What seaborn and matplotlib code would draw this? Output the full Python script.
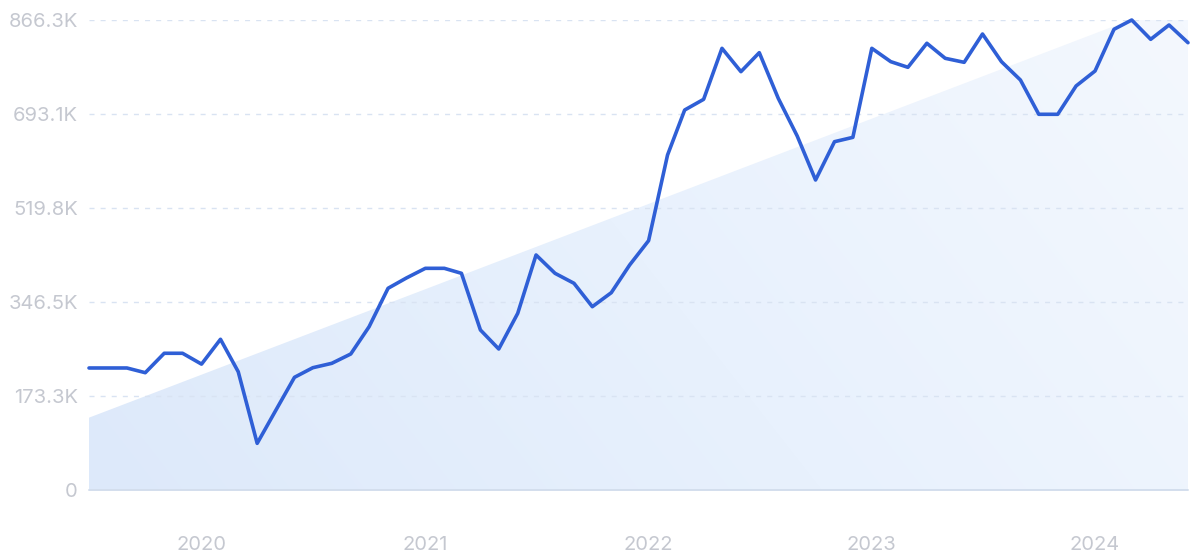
import numpy as np
import pandas as pd
import matplotlib
matplotlib.use("Agg")
import matplotlib.pyplot as plt
import matplotlib.dates as mdates
from matplotlib.colors import LinearSegmentedColormap
import seaborn as sns

# ---- data (values in thousands) ----
start_month = "2019-07-01"
values_k = [224.9, 224.9, 224.9, 216.2, 252.0, 252.0, 232.0, 277.8, 218.0, 86.0,
            146.0, 207.7, 225.4, 233.5, 250.7, 301.0, 371.8, 390.8, 408.6, 408.6,
            399.4, 295.0, 259.9, 325.6, 433.2, 399.4, 381.0, 337.9, 363.7, 414.7,
            459.6, 617.5, 700.4, 720.1, 814.1, 771.1, 806.1, 722.0, 652.5, 571.4,
            642.0, 650.0, 814.1, 789.5, 779.1, 823.4, 795.7, 788.3, 840.5, 789.5,
            755.7, 692.5, 692.5, 744.7, 772.3, 849.2, 866.3, 830.7, 857.1, 824.5]
trend_start_k = 133.3
trend_end_k = 907.0
y_ticks_k = [0, 173.3, 346.5, 519.8, 693.1, 866.3]
y_tick_labels = ["0", "173.3K", "346.5K", "519.8K", "693.1K", "866.3K"]
x_tick_years = ["2020", "2021", "2022", "2023", "2024"]

months = pd.date_range(start_month, periods=len(values_k), freq="MS")
df = pd.DataFrame({"month": months, "value": np.array(values_k) * 1000})

sns.set_theme(style="white")
plt.rcParams["font.family"] = ["Inter", "DejaVu Sans"]

fig = plt.figure(figsize=(12, 5.53), dpi=100)
ax = fig.add_axes([89 / 1200, 1 - 490 / 553, (1188 - 89) / 1200, 470 / 553])

xn = mdates.date2num(months)
x0, x1 = xn[0], xn[-1]
ymax = y_ticks_k[-1] * 1000

# trend area with gradient
trend = np.interp(xn, [x0, x1], [trend_start_k * 1000, trend_end_k * 1000])
poly = ax.fill_between(months, 0, trend, color="none", lw=0, zorder=1)
cmap = LinearSegmentedColormap.from_list("g", ["#dde9fa", "#e8f1fd", "#f4f8fe"])
gx, gy = np.meshgrid(np.linspace(0, 1, 300), np.linspace(0, 1, 150))
grad = 0.75 * gx + 0.25 * gy
im = ax.imshow(grad, cmap=cmap, extent=[x0, x1, 0, ymax], origin="lower",
               aspect="auto", zorder=1, interpolation="bilinear")
im.set_clip_path(poly.get_paths()[0], transform=ax.transData)

# main line
sns.lineplot(data=df, x="month", y="value", ax=ax, color="#2f5fd6",
             linewidth=2.6, zorder=4, clip_on=False)

ax.set_xlim(months[0], months[-1])
ax.set_ylim(0, ymax)
ax.set_xlabel("")
ax.set_ylabel("")

ax.set_yticks(np.array(y_ticks_k) * 1000)
ax.set_yticklabels(y_tick_labels)
xt = [pd.Timestamp(f"{y}-01-01") for y in x_tick_years]
ax.set_xticks(xt)
ax.set_xticklabels(x_tick_years)

ax.tick_params(axis="both", length=0, labelsize=14.5, colors="#c5c8d0")
ax.tick_params(axis="y", pad=8)
ax.tick_params(axis="x", pad=33)

for t in np.array(y_ticks_k[1:]) * 1000:
    ax.axhline(t, color="#d9e3f2", lw=1.0, ls=(0, (3.6, 4.4)), zorder=2)
ax.axhline(0, color="#d3deed", lw=1.4, zorder=3, clip_on=False)

for s in ax.spines.values():
    s.set_visible(False)
ax.grid(False)

fig.savefig("out.png", dpi=100)
